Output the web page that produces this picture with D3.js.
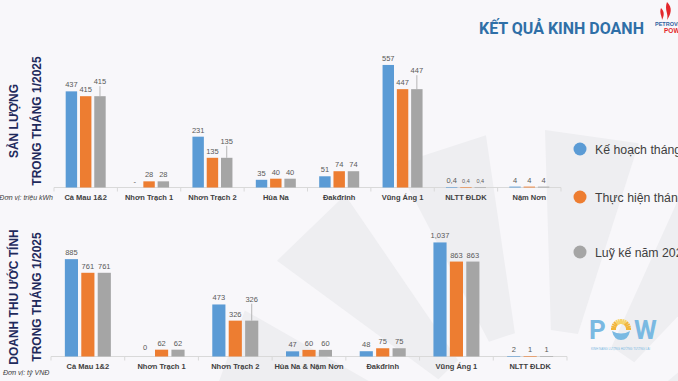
<!DOCTYPE html>
<html>
<head>
<meta charset="utf-8">
<script src="https://cdn.jsdelivr.net/npm/d3@7"></script>
<style>
  html, body { margin: 0; padding: 0; background: #f8f7fa; overflow: hidden; }
  svg { display: block; font-family: "Liberation Sans", Arial, sans-serif; }
</style>
</head>
<body>
<script>
// ---- data ----
const seriesNames = ["Kế hoạch tháng 1", "Thực hiện tháng 1", "Luỹ kế năm 2025"];
const seriesColors = ["#5b9bd5", "#ed7d31", "#a5a5a5"];

const outputCats = ["Cà Mau 1&2", "Nhơn Trạch 1", "Nhơn Trạch 2", "Hủa Na", "Đakđrinh", "Vũng Áng 1", "NLTT ĐLDK", "Nậm Nơn"];
const outputPlan = [437, null, 231, 35, 51, 557, 0.4, 4];
const outputActual = [415, 28, 135, 40, 74, 447, 0.4, 4];
const outputCumulative = [415, 28, 135, 40, 74, 447, 0.4, 4];

const revenueCats = ["Cà Mau 1&2", "Nhơn Trạch 1", "Nhơn Trạch 2", "Hủa Na & Nậm Nơn", "Đakđrinh", "Vũng Áng 1", "NLTT ĐLDK"];
const revenuePlan = [885, 0, 473, 47, 48, 1037, 2];
const revenueActual = [761, 62, 326, 60, 75, 863, 1];
const revenueCumulative = [761, 62, 326, 60, 75, 863, 1];

const W = 678, H = 381;
const svg = d3.select("body").append("svg").attr("width", W).attr("height", H);

// background watermark (sun rays)
const wm = svg.append("g").attr("fill", "#eeeef1");
const sunC = [545, 470];
[-160, -134, -108, -82, -56, -30].forEach(a => {
    const r0 = 140, r1 = 340, half = 8;
    const p = (ang, r) => [sunC[0] + r * Math.cos(ang * Math.PI / 180), sunC[1] + r * Math.sin(ang * Math.PI / 180)];
    wm.append("path").attr("d", d3.line()([p(a - half * 0.7, r0), p(a - half, r1), p(a + half, r1), p(a + half * 0.7, r0)]) + "Z");
});

// header
svg.append("text").attr("x", 479).attr("y", 34)
    .attr("font-family", "Roboto, sans-serif").attr("font-weight", "bold").attr("font-size", 16)
    .attr("fill", "#2f6fa7").text("KẾT QUẢ KINH DOANH");
const logo = svg.append("g").attr("transform", "translate(655,0)");
logo.append("path").attr("d", "M12,2 C18,8 16,14 12,20 C14,14 9,10 12,2 Z M6,8 C10,12 9,16 7,20 C7,16 4,13 6,8 Z").attr("fill", "#e3262b");
logo.append("text").attr("x", 0).attr("y", 26).attr("font-size", 5.5).attr("font-weight", "bold").attr("fill", "#2f5fa0").text("PETROVIETNAM");
logo.append("text").attr("x", 9).attr("y", 33).attr("font-size", 6.5).attr("font-weight", "bold").attr("fill", "#e3262b").text("POWER");

function fmt(v) {
    if (v == null) return "-";
    if (v < 1) return String(v).replace(".", ",");
    return d3.format(",")(v);
}

function drawPanel(cfg) {
    const g = svg.append("g");
    const x0 = d3.scaleBand().domain(cfg.cats).range(cfg.xRange);
    const x1 = d3.scaleBand().domain(d3.range(3)).range([-cfg.groupW / 2, cfg.groupW / 2]).paddingInner(0.2);
    const y = d3.scaleLinear().domain(cfg.yDomain).range(cfg.yRange);
    const base = y(0);

    // axis line and boundary ticks
    g.append("line").attr("x1", cfg.xRange[0]).attr("x2", cfg.xRange[1])
        .attr("y1", base).attr("y2", base).attr("stroke", "#d9d9d9").attr("stroke-width", 1);
    g.selectAll(".tk").data(cfg.cats.concat([null])).join("line")
        .attr("x1", (d, i) => cfg.xRange[0] + i * x0.step()).attr("x2", (d, i) => cfg.xRange[0] + i * x0.step())
        .attr("y1", base).attr("y2", base + 4).attr("stroke", "#d9d9d9");

    const rows = [];
    cfg.cats.forEach((c, ci) => {
        cfg.series.forEach((s, si) => rows.push({ cat: c, si: si, v: s[ci] }));
    });

    const cx = d => x0(d.cat) + x0.bandwidth() / 2 + x1(d.si);
    g.selectAll(".bar").data(rows.filter(d => d.v)).join("rect")
        .attr("x", cx)
        .attr("y", d => y(d.v))
        .attr("width", x1.bandwidth())
        .attr("height", d => Math.max(base - y(d.v), 0.6))
        .attr("fill", d => seriesColors[d.si]);

    // leader lines for lifted labels
    rows.forEach(d => {
        const lift = d.si === 2 ? (cfg.lift[d.cat] || 0) : 0;
        d.lift = lift;
        if (lift) {
            g.append("line")
                .attr("x1", cx(d) + x1.bandwidth() / 2).attr("x2", cx(d) + x1.bandwidth() / 2)
                .attr("y1", y(d.v) - lift - 2).attr("y2", y(d.v))
                .attr("stroke", "#a6a6a6").attr("stroke-width", 0.8);
        }
    });

    g.selectAll(".lbl").data(rows).join("text")
        .attr("x", d => cx(d) + x1.bandwidth() / 2)
        .attr("y", d => y(d.v || 0) - 4 - d.lift - (d.v === 0 ? 3 : 0))
        .attr("text-anchor", "middle")
        .attr("font-size", d => (d.v != null && d.v < 1 && d.v > 0 && d.si > 0) ? 5.5 : 7.5)
        .attr("fill", "#595959")
        .text(d => fmt(d.v));

    g.selectAll(".cat").data(cfg.cats).join("text")
        .attr("x", d => x0(d) + x0.bandwidth() / 2)
        .attr("y", base + 12.5)
        .attr("text-anchor", "middle")
        .attr("font-size", 7.5).attr("font-weight", "bold").attr("fill", "#404040")
        .text(d => d);

    // titles
    cfg.titles.forEach((t, i) => {
        svg.append("text")
            .attr("transform", `translate(${cfg.titleX[i]},${cfg.titleY}) rotate(-90)`)
            .attr("text-anchor", "middle")
            .attr("font-size", 12).attr("font-weight", "bold").attr("fill", "#1f2a5c")
            .text(t);
    });
    svg.append("text").attr("x", cfg.unitPos[0]).attr("y", cfg.unitPos[1])
        .attr("text-anchor", cfg.unitAnchor)
        .attr("font-size", 7).attr("font-style", "italic").attr("fill", "#404040")
        .text(cfg.unit);
}

drawPanel({
    cats: outputCats,
    series: [outputPlan, outputActual, outputCumulative],
    xRange: [54, 561], groupW: 40,
    yDomain: [0, 600], yRange: [187.5, 55.5],
    lift: { "Cà Mau 1&2": 8, "Nhơn Trạch 2": 10, "Vũng Áng 1": 12 },
    titles: ["SẢN LƯỢNG", "TRONG THÁNG 1/2025"], titleX: [18, 41], titleY: 121,
    unit: "Đơn vị: triệu kWh", unitPos: [53, 200], unitAnchor: "end"
});

drawPanel({
    cats: revenueCats,
    series: [revenuePlan, revenueActual, revenueCumulative],
    xRange: [51, 567], groupW: 46,
    yDomain: [0, 1200], yRange: [356.5, 224.5],
    lift: { "Nhơn Trạch 2": 15 },
    titles: ["DOANH THU ƯỚC TÍNH", "TRONG THÁNG 1/2025"], titleX: [18, 41], titleY: 297,
    unit: "Đơn vị: tỷ VNĐ", unitPos: [3, 375], unitAnchor: "start"
});

// legend
const legY = [149, 197, 252];
const leg = svg.append("g");
seriesNames.forEach((n, i) => {
    leg.append("circle").attr("cx", 580).attr("cy", legY[i]).attr("r", 6.5).attr("fill", seriesColors[i]);
    leg.append("text").attr("x", 595).attr("y", legY[i] + 5)
        .attr("font-size", 12.3).attr("fill", "#404040").text(n);
});

// POW logo
const pow = svg.append("g").attr("transform", "translate(589,339)");
pow.append("text").attr("x", 0).attr("y", 0).attr("font-size", 26).attr("font-weight", "bold")
    .attr("font-family", "Roboto, sans-serif").attr("fill", "#7ab9e2").text("P");
pow.append("text").attr("x", 45).attr("y", 0).attr("font-size", 26).attr("font-weight", "bold")
    .attr("font-family", "Roboto, sans-serif").attr("fill", "#7ab9e2").text("W");
d3.range(0, 181, 15).forEach(a => {
    const ang = (180 + a) * Math.PI / 180;
    pow.append("line")
        .attr("x1", 32 + 5 * Math.cos(ang)).attr("y1", -10 + 5 * Math.sin(ang))
        .attr("x2", 32 + 10 * Math.cos(ang)).attr("y2", -10 + 10 * Math.sin(ang))
        .attr("stroke", a < 60 || a > 120 ? "#f2b53a" : "#f6d36b").attr("stroke-width", 2);
});
pow.append("path").attr("d", "M23,-8 Q32,-3 41,-8 Q39,1 32,1 Q25,1 23,-8 Z").attr("fill", "#7ab9e2");
pow.append("text").attr("x", 2).attr("y", 11).attr("font-size", 3).attr("fill", "#7ab9e2")
    .text("KINH NĂNG LƯỢNG HƯỚNG TƯƠNG LAI");
</script>
</body>
</html>
